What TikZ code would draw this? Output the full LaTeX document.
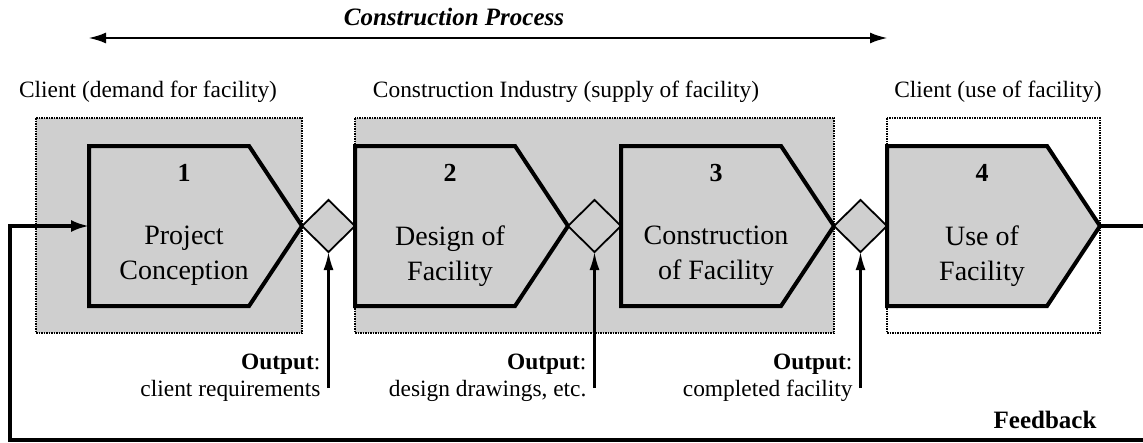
\documentclass[tikz,border=0pt]{standalone}
\usepackage{fontspec}
\setmainfont{Liberation Serif}
\usetikzlibrary{shapes.symbols,shapes.geometric,positioning,arrows.meta}
\definecolor{boxgray}{RGB}{207,207,207}

\begin{document}
\begin{tikzpicture}[x=1pt,y=-1pt,
  stage/.style={draw,line width=4pt,fill=boxgray,signal,signal to=east,signal pointer angle=113,
    minimum width=213pt,minimum height=160pt,inner sep=0pt,outer sep=0pt},
  gate/.style={draw,line width=1.8pt,fill=boxgray,diamond,minimum width=53pt,minimum height=52pt,
    inner sep=0pt,outer sep=0pt},
  region/.style={draw,densely dotted,line width=1.5pt},
  outarrow/.style={draw,line width=2.2pt,-{Latex[length=18pt,width=10pt]}}]
\useasboundingbox (0,0) rectangle (1143,442);
\newcommand\stagelabels[4]{
\node[font=\fontsize{26}{30}\selectfont\bfseries] (#1num) at ([xshift=95pt,yshift=53pt]#1.west) {#2};
\node[font=\fontsize{28}{35}\selectfont,align=center] (#1txt) at ([xshift=95pt,yshift=-30pt]#1.west) {#3\\#4};
}
% process arrow
\node[font=\fontsize{25}{30}\selectfont\bfseries\itshape] (title) at (454,17) {Construction Process};
\coordinate (procL) at (88,38);
\coordinate (procR) at (888,38);
\path[draw,line width=2.8pt,{Latex[length=18pt,width=11pt]}-{Latex[length=18pt,width=11pt]}] (procL) -- (procR);
% parties
\node[font=\fontsize{23.4}{28}\selectfont] (client1) at (148,92) {Client (demand for facility)};
\node[font=\fontsize{23.4}{28}\selectfont] (industry) at (566,92) {Construction Industry (supply of facility)};
\node[font=\fontsize{23.4}{28}\selectfont] (client2) at (998,92) {Client (use of facility)};
\path[region,fill=boxgray] (36,118) rectangle (302,333);
\path[region,fill=boxgray] (355,118) rectangle (834,333);
\path[region,fill=white] (887,118) rectangle (1100,333);
% stages
\node[stage,anchor=west] (p1) at (89,226) {};
\node[gate,right=0pt of p1] (d1) {};
\node[stage,right=0pt of d1] (p2) {};
\node[gate,right=0pt of p2] (d2) {};
\node[stage,right=0pt of d2] (p3) {};
\node[gate,right=0pt of p3] (d3) {};
\node[stage,right=0pt of d3] (p4) {};
\stagelabels{p1}{1}{Project}{Conception}
\stagelabels{p2}{2}{Design of}{Facility}
\stagelabels{p3}{3}{Construction}{of Facility}
\stagelabels{p4}{4}{Use of}{Facility}
% outputs
\node[font=\fontsize{23.4}{27}\selectfont,align=right,anchor=east] (out1) at (324,378) {\textbf{Output}:\\client requirements};
\node[font=\fontsize{23.4}{27}\selectfont,align=right,anchor=east] (out2) at (590,378) {\textbf{Output}:\\design drawings, etc.};
\node[font=\fontsize{23.4}{27}\selectfont,align=right,anchor=east] (out3) at (856,378) {\textbf{Output}:\\completed facility};
\path[outarrow] (d1.south |- 0,388) -- (d1.south);
\path[outarrow] (d2.south |- 0,388) -- (d2.south);
\path[outarrow] (d3.south |- 0,388) -- (d3.south);
% feedback loop
\node[font=\fontsize{25}{30}\selectfont\bfseries,anchor=east] (fb) at (1100,420) {Feedback};
\path[draw,line width=3.2pt,-{Latex[length=18pt,width=12pt]}] (p4.east) -- (1150,226) |- (10,440) |- (p1.west);
\end{tikzpicture}
\end{document}
